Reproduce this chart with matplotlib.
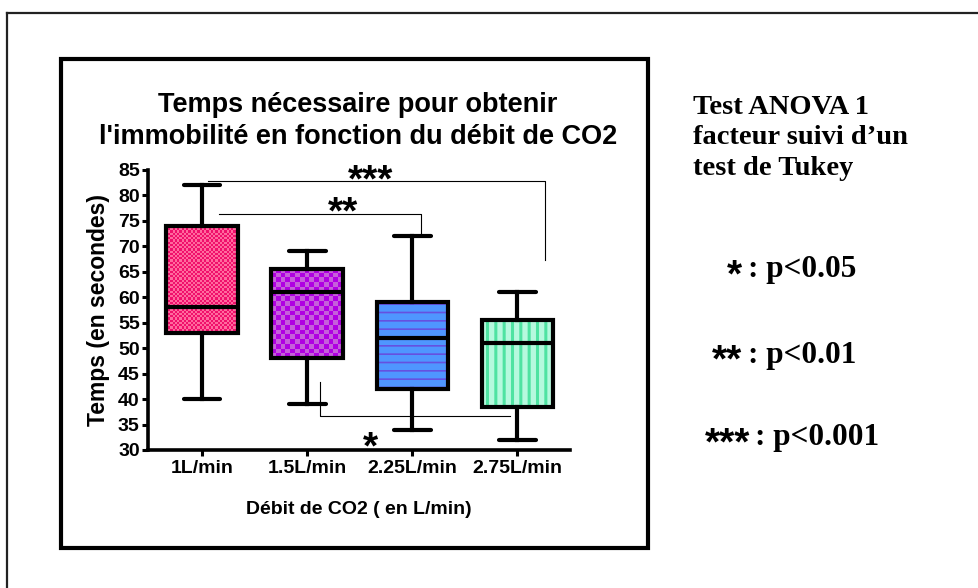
import numpy as np
import matplotlib
matplotlib.use('Agg')
import matplotlib.pyplot as plt
from matplotlib.patches import Rectangle, PathPatch
from matplotlib.lines import Line2D
from matplotlib.colors import ListedColormap

# ---------------- data ----------------
categories = ['1L/min', '1.5L/min', '2.25L/min', '2.75L/min']
whisker_low = [40, 39, 34, 32]
q1 = [53, 48, 42, 38.5]
median = [58, 61, 52, 51]
q3 = [74, 65.5, 59, 55.5]
whisker_high = [82, 69, 72, 61]
yticks = list(range(30, 90, 5))

sig_labels = ['***', '**', '*']
sig_x = [[1.055, 4.26, 4.26], [1.16, 3.08, 3.08], [2.12, 2.12, 3.93]]
sig_y = [[82.8, 82.8, 67.3], [76.3, 76.3, 72.1], [43.3, 36.7, 36.7]]
sig_text_x = [2.60, 2.34, 2.60]
sig_text_y = [85.4, 79.1, 32.9]

legend_stars = ['*', '**', '***']
legend_text = [': p<0.05', ': p<0.01', ': p<0.001']

# ---------------- styles ----------------
plt.rcParams['font.family'] = ['Liberation Sans', 'DejaVu Sans']
plt.rcParams['font.weight'] = 'bold'
STAR_FONT = ['Liberation Sans', 'DejaVu Sans']
STAR_FS = 28
STAR_CENTER = 0.60  # fraction of em above baseline where the asterisk sits

W, H = 979, 588
fig = plt.figure(figsize=(W / 100, H / 100), dpi=100)

def fx(px):
    return px / W

def fy(py):
    return 1 - py / H

# outer frame (only top and left visible)
fig.add_artist(Line2D([fx(7), 1.0], [fy(13), fy(13)], transform=fig.transFigure,
                      color='#222222', lw=1.6))
fig.add_artist(Line2D([fx(7), fx(7)], [fy(13), 0.0], transform=fig.transFigure,
                      color='#222222', lw=1.6))
# inner frame
fig.add_artist(Rectangle((fx(61), fy(548)), fx(587), 489 / H, transform=fig.transFigure,
                         fill=False, ec='black', lw=3.0))

ax = fig.add_axes([fx(148), 1 - 450 / H, 422 / W, 280 / H])

positions = np.arange(1, len(categories) + 1)
stats = []
for i, c in enumerate(categories):
    stats.append(dict(label=c, med=median[i], q1=q1[i], q3=q3[i],
                      whislo=whisker_low[i], whishi=whisker_high[i], fliers=[]))

lw = 3.0
res = ax.bxp(stats, positions=positions, widths=0.68, capwidths=0.35,
             patch_artist=True, showfliers=False,
             boxprops=dict(lw=lw, ec='black', fc='none', zorder=3),
             medianprops=dict(lw=lw, color='black', zorder=4, solid_capstyle='butt'),
             whiskerprops=dict(lw=lw, color='black', zorder=2),
             capprops=dict(lw=lw, color='black', zorder=2, solid_capstyle='round'))

# fills / textures
checker_colors = [('#ff6a9e', '#f0106c'), ('#c560da', '#b000e2')]
checker_cells = [(32, 48), (15, 19)]
for i in range(2):
    box = res['boxes'][i]
    ext = box.get_path().get_extents()
    nc, nr = checker_cells[i]
    grid = (np.add.outer(np.arange(nr), np.arange(nc)) % 2).astype(float)
    clip = PathPatch(box.get_path(), transform=ax.transData, fc='none', ec='none')
    ax.add_patch(clip)
    im = ax.imshow(grid, extent=[ext.x0, ext.x1, ext.y0, ext.y1],
                   cmap=ListedColormap(list(checker_colors[i])), interpolation='nearest',
                   aspect='auto', zorder=1.5, origin='lower')
    im.set_clip_path(clip)

hatch_styles = [('#4f96ff', '#6650e0', '--', 1.2), ('#b6f9de', '#4fe3a2', '||', 2.2)]
for j, i in enumerate([2, 3]):
    fc, hc, ht, hlw = hatch_styles[j]
    with plt.rc_context({'hatch.linewidth': hlw}):
        p = PathPatch(res['boxes'][i].get_path(), transform=ax.transData,
                      fc=fc, ec=hc, lw=0, hatch=ht, zorder=1.5)
        ax.add_patch(p)

# significance brackets
for k in range(len(sig_labels)):
    ax.plot(sig_x[k], sig_y[k], color='black', lw=0.8, clip_on=False, zorder=1)
    ax.annotate(sig_labels[k], xy=(sig_text_x[k], sig_text_y[k]),
                xytext=(0, -STAR_CENTER * STAR_FS), textcoords='offset points',
                ha='center', va='baseline', fontsize=STAR_FS, fontweight='bold',
                family=STAR_FONT, annotation_clip=False)

ax.set_xlim(0.486, 4.5)
ax.set_ylim(30, 85)
ax.set_yticks(yticks)
ax.set_xticks(positions)
ax.set_xticklabels(categories)
for s in ['top', 'right']:
    ax.spines[s].set_visible(False)
for s in ['left', 'bottom']:
    ax.spines[s].set_linewidth(2.6)
ax.tick_params(axis='both', direction='out', length=4, width=2.2, labelsize=14, pad=2)
ax.tick_params(axis='x', pad=3.5)
for t in ax.get_xticklabels() + ax.get_yticklabels():
    t.set_fontweight('bold')

ax.set_ylabel('Temps (en secondes)', fontsize=16.5, fontweight='bold', labelpad=6)
ax.set_xlabel('Débit de CO2 ( en L/min)', fontsize=14, fontweight='bold', labelpad=17)

fig.text(fx(358), fy(121), "Temps nécessaire pour obtenir\nl'immobilité en fonction du débit de CO2",
         ha='center', va='center', fontsize=19.5, fontweight='bold', linespacing=1.28)

# right-hand note
serif = ['Liberation Serif', 'DejaVu Serif']
fig.text(fx(693), fy(138), "Test ANOVA 1\nfacteur suivi d\u2019un\ntest de Tukey",
         ha='left', va='center', fontsize=20.5, fontweight='bold', family=serif,
         linespacing=1.3)
leg_y = [270, 355, 438]
star_center_y = [263, 348, 431]
star_right = [742, 742, 750]
text_left = [748, 748, 755]
star_off_px = STAR_CENTER * STAR_FS * 100 / 72
for k in range(3):
    fig.text(fx(star_right[k]), fy(star_center_y[k] + star_off_px), legend_stars[k],
             ha='right', va='baseline', fontsize=STAR_FS, fontweight='bold', family=STAR_FONT)
    fig.text(fx(text_left[k]), fy(leg_y[k]), legend_text[k], ha='left', va='center',
             fontsize=22.5, fontweight='bold', family=serif)

fig.savefig('out.png', dpi=100, facecolor='white')
